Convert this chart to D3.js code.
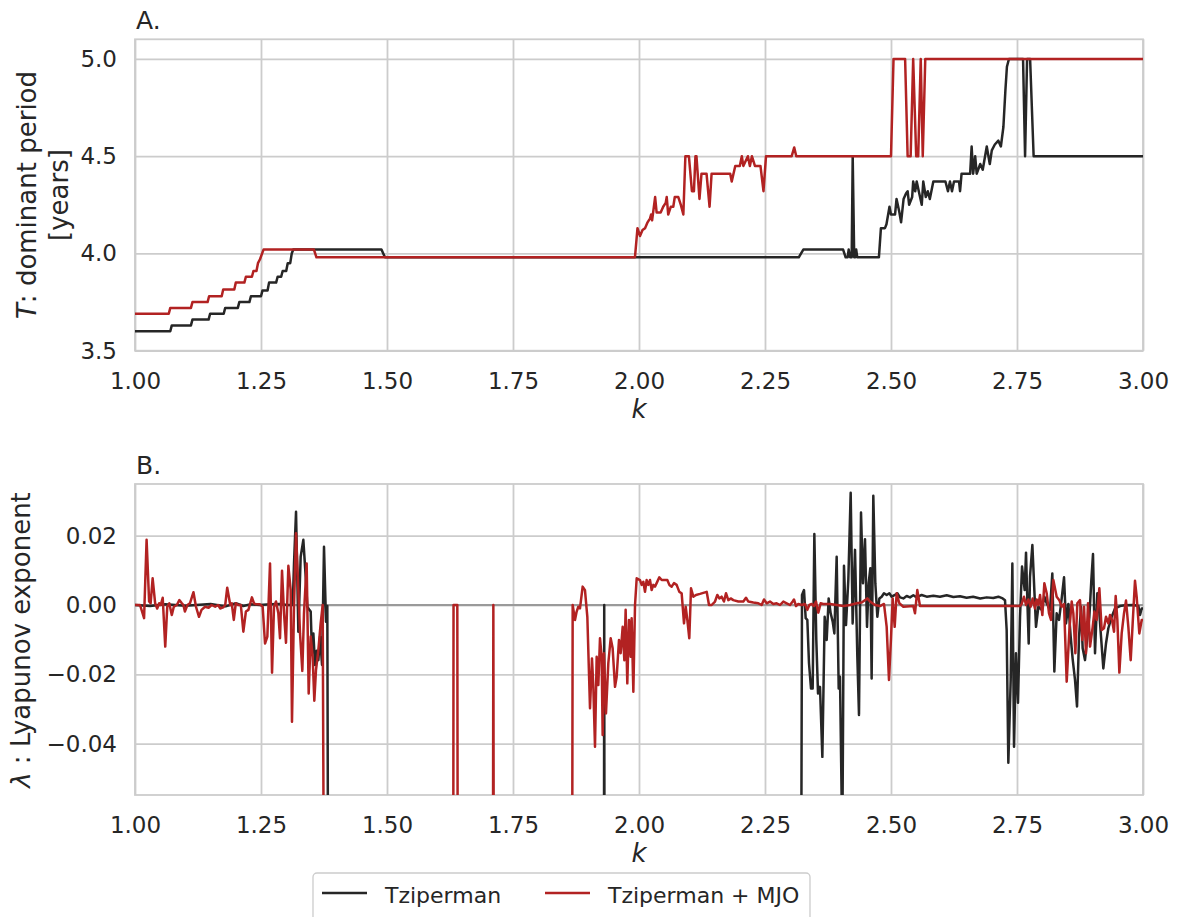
<!DOCTYPE html>
<html>
<head>
<meta charset="utf-8">
<script src="https://cdn.jsdelivr.net/npm/d3@7"></script>
<style>
  body { margin: 0; background: #fff; }
  text { font-family: "DejaVu Sans", sans-serif; fill: #262626; }
</style>
</head>
<body>
<div id="chart"></div>
<script>
// values, [k, value]
const xTicks = [1.00, 1.25, 1.50, 1.75, 2.00, 2.25, 2.50, 2.75, 3.00];
const periodTicks = [3.5, 4.0, 4.5, 5.0];
const lyapTicks = [-0.04, -0.02, 0.00, 0.02];
const seriesNames = ["Tziperman", "Tziperman + MJO"];

// A. dominant period
const periodTz = [[1.000,3.60],[1.070,3.60],[1.073,3.63],[1.111,3.63],[1.114,3.66],[1.146,3.66],[1.149,3.69],[1.176,3.69],[1.179,3.72],[1.204,3.72],[1.207,3.75],[1.227,3.75],[1.230,3.78],[1.250,3.78],[1.253,3.81],[1.263,3.81],[1.266,3.85],[1.280,3.85],[1.283,3.88],[1.290,3.88],[1.293,3.91],[1.300,3.91],[1.303,3.95],[1.308,3.95],[1.311,4.00],[1.314,4.02],[1.489,4.02],[1.496,3.98],[2.317,3.98],[2.326,4.02],[2.405,4.02],[2.410,3.98],[2.414,3.98],[2.416,4.02],[2.419,3.98],[2.422,3.98],[2.424,4.50],[2.427,3.98],[2.429,3.98],[2.431,4.02],[2.433,3.98],[2.476,3.98],[2.480,4.13],[2.488,4.13],[2.491,4.15],[2.497,4.24],[2.500,4.20],[2.508,4.20],[2.511,4.28],[2.516,4.22],[2.520,4.16],[2.525,4.28],[2.530,4.31],[2.533,4.32],[2.536,4.25],[2.542,4.29],[2.544,4.37],[2.548,4.32],[2.551,4.37],[2.556,4.31],[2.561,4.25],[2.564,4.37],[2.569,4.29],[2.573,4.32],[2.577,4.28],[2.584,4.37],[2.608,4.37],[2.613,4.32],[2.617,4.37],[2.621,4.32],[2.625,4.37],[2.635,4.37],[2.637,4.32],[2.640,4.41],[2.657,4.41],[2.660,4.55],[2.663,4.41],[2.667,4.50],[2.670,4.41],[2.677,4.46],[2.682,4.43],[2.690,4.55],[2.696,4.46],[2.700,4.53],[2.706,4.56],[2.713,4.58],[2.718,4.55],[2.723,4.65],[2.727,4.84],[2.730,4.96],[2.734,5.00],[2.762,5.00],[2.766,4.50],[2.770,5.00],[2.776,5.00],[2.783,4.50],[3.000,4.50]];

const periodMjo = [[1.000,3.69],[1.067,3.69],[1.070,3.72],[1.111,3.72],[1.114,3.75],[1.144,3.75],[1.147,3.78],[1.172,3.78],[1.175,3.815],[1.197,3.815],[1.200,3.85],[1.217,3.85],[1.220,3.88],[1.232,3.88],[1.235,3.91],[1.241,3.91],[1.244,3.95],[1.248,3.97],[1.255,4.02],[1.355,4.02],[1.360,3.98],[1.992,3.98],[1.997,4.13],[2.002,4.09],[2.007,4.12],[2.012,4.13],[2.017,4.16],[2.022,4.18],[2.024,4.20],[2.026,4.17],[2.028,4.21],[2.032,4.29],[2.035,4.21],[2.043,4.21],[2.048,4.24],[2.053,4.26],[2.055,4.29],[2.058,4.20],[2.063,4.24],[2.068,4.24],[2.071,4.29],[2.078,4.29],[2.083,4.25],[2.088,4.20],[2.092,4.50],[2.099,4.50],[2.105,4.32],[2.109,4.32],[2.112,4.50],[2.114,4.50],[2.120,4.28],[2.124,4.41],[2.134,4.41],[2.140,4.24],[2.144,4.41],[2.181,4.41],[2.184,4.37],[2.191,4.45],[2.200,4.45],[2.204,4.50],[2.207,4.45],[2.216,4.50],[2.220,4.45],[2.224,4.50],[2.230,4.45],[2.241,4.45],[2.247,4.32],[2.252,4.50],[2.303,4.50],[2.308,4.545],[2.312,4.50],[2.500,4.50],[2.505,5.00],[2.528,5.00],[2.533,4.50],[2.539,4.50],[2.544,5.00],[2.550,4.50],[2.554,4.50],[2.559,5.00],[2.563,4.50],[2.568,5.00],[3.000,5.00]];

// B. lyapunov exponent (-0.15 = far below the axis)
const lyapTz = [[1.000,0.0000],[1.030,-0.0003],[1.060,0.0002],[1.100,-0.0002],[1.150,0.0003],[1.180,-0.0004],[1.200,0.0005],[1.215,-0.0003],[1.230,0.0002],[1.248,0.0000],[1.268,0.0002],[1.288,0.0003],[1.301,0.0000],[1.313,0.0000],[1.3155,0.0120],[1.3195,0.0269],[1.3241,-0.0077],[1.3287,0.0139],[1.3340,0.0188],[1.3387,0.0082],[1.3420,-0.0005],[1.3459,-0.0014],[1.3486,-0.0019],[1.3512,-0.0139],[1.3539,-0.0082],[1.3572,-0.0173],[1.3605,-0.0132],[1.3638,-0.0159],[1.3671,-0.0091],[1.3711,-0.0173],[1.3750,0.0168],[1.3790,-0.0048],[1.3816,-0.0003],[1.3843,-0.15],[1.930,-0.15],[1.931,0.0],[1.932,-0.15],[2.3205,-0.15],
  [2.3234,0.0029],[2.3274,0.0043],[2.3307,-0.0038],[2.3340,-0.0043],[2.3373,-0.0168],[2.3413,-0.0241],[2.3446,-0.0241],[2.3479,0.0205],[2.3518,-0.0101],[2.3552,-0.0255],[2.3591,-0.0236],[2.3638,-0.0438],[2.3684,-0.0034],[2.3724,-0.0101],[2.3763,0.0019],[2.3803,-0.0024],[2.3843,-0.0048],[2.3876,-0.0082],[2.3922,0.0139],[2.3962,-0.0241],[2.3988,-0.0207],[2.4034,-0.07],[2.4067,0.0113],[2.4107,-0.0058],[2.4153,0.0072],[2.4200,0.0324],[2.4239,-0.0053],[2.4286,0.0159],[2.4332,-0.0149],[2.4365,-0.0317],[2.4405,0.0267],[2.4444,0.0063],[2.4484,0.0190],[2.4524,-0.0063],[2.4557,0.0063],[2.4590,0.0106],[2.4616,-0.0212],[2.4649,0.0315],[2.4689,0.0063],[2.4729,-0.0034],[2.4769,0.0019],[2.4815,0.0024],[2.4861,0.0034],[2.4914,0.0029],[2.4967,0.0034],[2.5013,0.0024],[2.5079,0.0029],[2.5126,0.0034],[2.5179,0.0022],[2.5245,0.0019],[2.5311,0.0026],[2.5377,0.0022],[2.5443,0.0028],[2.5509,0.0022],[2.5608,0.0029],[2.5708,0.0024],[2.5840,0.0027],[2.5972,0.0024],[2.6105,0.0028],[2.6237,0.0023],[2.6369,0.0025],[2.650,0.0021],[2.663,0.0024],[2.677,0.0019],[2.690,0.0022],[2.703,0.0020],[2.713,0.0024],[2.7216,0.0019],
  [2.7262,0.0014],[2.7295,-0.0072],[2.7328,-0.0455],[2.7375,-0.0216],[2.7408,0.0120],[2.7441,-0.0409],[2.7480,-0.0139],[2.7520,-0.0282],[2.7560,-0.0034],[2.7600,0.0111],[2.7626,0.0077],[2.7652,0.0043],[2.7679,0.0151],[2.7705,0.0014],[2.7732,-0.0111],[2.7758,0.0082],[2.7805,0.0173],[2.7844,0.0043],[2.7877,-0.0063],[2.7924,-0.0005],[2.7990,-0.0014],[2.8043,0.0024],[2.8089,0.0005],[2.8155,-0.0014],[2.8201,0.0091],[2.8241,-0.0192],[2.8287,-0.0024],[2.8334,-0.0043],[2.8387,0.0019],[2.8433,0.0080],[2.8473,-0.0053],[2.8519,0.0003],[2.8565,-0.0091],[2.8605,-0.0157],[2.8651,-0.0216],[2.8691,-0.0293],[2.8731,-0.0091],[2.8770,-0.0005],[2.8803,-0.0125],[2.8849,-0.0159],[2.8896,-0.0091],[2.8936,-0.0034],[2.8975,0.0072],[2.9008,0.0147],[2.9048,-0.0139],[2.9094,0.0034],[2.9134,-0.0024],[2.9167,-0.0091],[2.9213,-0.0183],[2.9266,-0.0111],[2.9312,-0.0067],[2.9379,-0.0034],[2.9445,-0.0010],[2.9544,-0.0003],[2.9643,-0.0001],[2.9809,0.0000],[2.9908,-0.0003],[2.9941,-0.0029],[2.9974,-0.0010],[3.000,-0.0010]];

const lyapMjo = [[1.000,0.0000],[1.010,0.0000],[1.018,-0.0038],[1.023,0.0188],[1.028,0.0010],[1.031,0.0005],[1.035,0.0077],[1.040,0.0005],[1.044,-0.0010],[1.048,0.0005],[1.051,0.0000],[1.055,0.0021],[1.060,-0.0120],[1.064,-0.0005],[1.068,0.0005],[1.073,-0.0029],[1.077,-0.0005],[1.083,0.0000],[1.088,0.0014],[1.093,0.0005],[1.096,0.0000],[1.099,-0.0019],[1.104,0.0000],[1.109,0.0005],[1.116,0.0037],[1.121,-0.0005],[1.127,-0.0034],[1.132,-0.0014],[1.139,-0.0005],[1.146,-0.0008],[1.152,0.0000],[1.159,-0.0005],[1.165,0.0000],[1.169,-0.0010],[1.175,-0.0007],[1.179,0.0000],[1.183,0.0050],[1.189,0.0000],[1.192,0.0005],[1.196,-0.0043],[1.200,0.0005],[1.205,0.0000],[1.210,0.0000],[1.215,-0.0077],[1.220,-0.0019],[1.225,-0.0014],[1.232,0.0022],[1.236,0.0005],[1.241,0.0002],[1.248,0.0002],
  [1.2533,-0.0005],[1.2580,-0.0111],[1.2626,-0.0091],[1.2679,0.0120],[1.2719,-0.0195],[1.2758,-0.0005],[1.2798,0.0010],[1.2844,-0.0024],[1.2877,-0.0096],[1.2917,0.0099],[1.2957,-0.0024],[1.2996,-0.0109],[1.3043,0.0113],[1.3089,0.0043],[1.3115,-0.0337],[1.3155,0.0000],[1.3195,0.0207],[1.3241,0.0043],[1.3274,-0.0082],[1.3320,-0.0190],[1.3353,-0.0024],[1.3406,0.0120],[1.3446,-0.0255],[1.3486,-0.0091],[1.3525,-0.0149],[1.3558,-0.0276],[1.3591,-0.0188],[1.3638,-0.0130],[1.3684,-0.0053],[1.3724,0.0000],[1.3765,-0.15],[1.631,-0.15],[1.632,0.0],[1.6395,0.0],[1.641,-0.15],[1.7095,-0.15],[1.711,0.0],[1.7125,-0.15],[1.8665,-0.15],
  [1.8684,0.0000],[1.8730,-0.0043],[1.8763,-0.0019],[1.8796,-0.0005],[1.8829,-0.0010],[1.8882,0.0053],[1.8928,0.0043],[1.8975,-0.0034],[1.9028,-0.0298],[1.9067,-0.0154],[1.9094,-0.0236],[1.9127,-0.0409],[1.9160,-0.0149],[1.9193,-0.0231],[1.9226,-0.0096],[1.9259,-0.0149],[1.9279,-0.0375],[1.9305,-0.0139],[1.9345,-0.0313],[1.9391,-0.0168],[1.9438,-0.0096],[1.9477,-0.0125],[1.9524,-0.0236],[1.9557,-0.0207],[1.9603,-0.0101],[1.9636,-0.0139],[1.9676,-0.0063],[1.9709,-0.0159],[1.9735,-0.0014],[1.9768,-0.0226],[1.9801,-0.0043],[1.9835,-0.0149],[1.9854,-0.0038],[1.9888,-0.0250],[1.9921,0.0000],[1.9954,0.0077],[2.0020,0.0072],[2.0053,0.0058],[2.0086,0.0067],[2.0119,0.0038],[2.0152,0.0072],[2.0185,0.0058],[2.0218,0.0072],[2.0251,0.0043],[2.0284,0.0058],[2.0317,0.0053],[2.0350,0.0063],[2.0403,0.0080],[2.0450,0.0072],[2.0516,0.0072],[2.0562,0.0072],[2.0602,0.0058],[2.0648,0.0053],[2.0694,0.0063],[2.0747,0.0058],[2.0800,0.0038],[2.0846,0.0034],[2.0893,-0.0053],[2.0926,-0.0005],[2.0959,-0.0043],[2.0998,-0.0096],[2.1032,0.0048],[2.1078,0.0024],[2.1131,0.0029],[2.1210,0.0032],[2.1343,0.0038],[2.1389,0.0000],[2.1442,0.0000],[2.1508,0.0010],[2.1554,0.0029],[2.1594,0.0019],[2.1640,0.0024],[2.1686,0.0010],[2.1726,0.0034],[2.1772,0.0014],[2.1819,0.0019],[2.1871,0.0014],[2.1971,0.0010],[2.2070,0.0010],[2.2123,0.0021],[2.2169,0.0010],[2.2268,0.0007],[2.2368,0.0005],[2.2434,0.0000],[2.2480,0.0016],[2.2533,0.0005],[2.2599,0.0010],[2.2665,0.0003],[2.2731,0.0005],[2.2798,0.0000],[2.2864,0.0010],[2.2930,0.0005],
  [2.2996,0.0000],[2.3049,0.0010],[2.3075,0.0016],[2.3115,-0.0003],[2.3161,0.0003],[2.3228,0.0000],[2.3294,0.0003],[2.3340,-0.0014],[2.3380,0.0000],[2.3426,0.0003],[2.3472,-0.0003],[2.3512,0.0010],[2.3558,-0.0022],[2.3604,0.0005],[2.3657,0.0003],[2.3790,0.0003],[2.3922,0.0000],[2.4054,-0.0003],[2.4187,0.0000],[2.4319,0.0005],[2.4418,0.0007],[2.4530,0.0019],[2.4583,0.0010],[2.4683,0.0000],[2.4782,-0.0003],[2.4861,0.0003],[2.4914,-0.0063],[2.4960,-0.0216],[2.5000,-0.0096],[2.5033,0.0019],[2.5073,-0.0063],[2.5112,0.0034],[2.5165,0.0005],[2.5245,-0.0005],[2.5443,-0.0003],[2.5476,-0.0024],[2.5522,0.0043],[2.5575,-0.0003],[2.5642,-0.0003],[2.7560,-0.0003],
  [2.7593,0.0003],[2.7639,0.0024],[2.7679,0.0000],[2.7725,0.0016],[2.7771,-0.0005],[2.7811,0.0019],[2.7857,-0.0010],[2.7890,0.0016],[2.7924,0.0000],[2.7957,0.0029],[2.8003,-0.0029],[2.8043,0.0063],[2.8089,0.0034],[2.8135,-0.0024],[2.8175,-0.0043],[2.8221,0.0072],[2.8287,0.0024],[2.8340,0.0014],[2.8387,-0.0005],[2.8433,0.0003],[2.8486,-0.0221],[2.8539,-0.0072],[2.8585,0.0010],[2.8618,-0.0024],[2.8658,-0.0139],[2.8697,0.0005],[2.8750,0.0014],[2.8797,-0.0101],[2.8830,-0.0005],[2.8869,-0.0139],[2.8909,0.0005],[2.8949,-0.0120],[2.9002,-0.0063],[2.9035,-0.0019],[2.9081,-0.0043],[2.9134,0.0048],[2.9180,-0.0072],[2.9226,-0.0067],[2.9266,-0.0034],[2.9312,-0.0053],[2.9345,-0.0029],[2.9385,-0.0043],[2.9425,-0.0077],[2.9458,0.0026],[2.9491,-0.0043],[2.9531,-0.0195],[2.9577,-0.0082],[2.9623,-0.0024],[2.9663,0.0013],[2.9709,-0.0063],[2.9756,-0.0159],[2.9795,-0.0053],[2.9841,0.0070],[2.9874,0.0024],[2.9927,-0.0082],[2.9974,-0.0043],[3.000,-0.0043]];

var colors = ["#262626", "#b22222"];
var gridColor = "#cccccc";
var line_width = 2.5;

var svg = d3.select("#chart")
    .append("svg")
    .attr("width", 1177)
    .attr("height", 917);

var x = d3.scaleLinear().domain([1, 3]).range([135, 1143]);

function draw_panel(id, top, bottom, y, yTicks, yFormat, title, series, zeroLine) {
  var g = svg.append("g").attr("class", "panel-" + id);

  g.append("clipPath").attr("id", "clip-" + id)
    .append("rect")
      .attr("x", x.range()[0]).attr("y", top)
      .attr("width", x.range()[1] - x.range()[0]).attr("height", bottom - top);

  // vertical grid + x tick labels
  var xa = g.append("g")
    .attr("transform", "translate(0," + bottom + ")")
    .call(d3.axisBottom(x).tickValues(xTicks).tickFormat(d3.format(".2f"))
      .tickSize(-(bottom - top)).tickPadding(22));

  // horizontal grid + y tick labels
  var ya = g.append("g")
    .attr("transform", "translate(" + x.range()[0] + ",0)")
    .call(d3.axisLeft(y).tickValues(yTicks).tickFormat(yFormat)
      .tickSize(-(x.range()[1] - x.range()[0])).tickPadding(18));

  [xa, ya].forEach(function(a) {
    a.select(".domain").remove();
    a.selectAll("line").attr("stroke", gridColor).attr("stroke-width", 1.8);
    a.selectAll("text").attr("fill", "#262626").style("font-size", "23px")
      .style("font-family", "'DejaVu Sans', sans-serif");
  });

  // frame
  g.append("rect")
    .attr("x", x.range()[0]).attr("y", top)
    .attr("width", x.range()[1] - x.range()[0]).attr("height", bottom - top)
    .attr("fill", "none").attr("stroke", gridColor).attr("stroke-width", 1.8);

  var plot = g.append("g").attr("clip-path", "url(#clip-" + id + ")");

  if (zeroLine) {
    plot.append("line")
      .attr("x1", x.range()[0]).attr("x2", x.range()[1])
      .attr("y1", y(0)).attr("y2", y(0))
      .attr("stroke", "#9a9a9a").attr("stroke-width", 2);
  }

  var line = d3.line()
    .x(function(d) { return x(d[0]); })
    .y(function(d) { return y(d[1]); });

  series.forEach(function(s, i) {
    plot.append("path")
      .datum(s)
      .attr("d", line)
      .attr("fill", "none")
      .attr("stroke", colors[i])
      .attr("stroke-width", line_width)
      .attr("stroke-linejoin", "round");
  });

  // panel title
  g.append("text")
    .attr("x", 136).attr("y", top - 10)
    .style("font-size", "25px")
    .text(title);

  // x label
  g.append("text")
    .attr("x", (x.range()[0] + x.range()[1]) / 2)
    .attr("y", bottom + 67)
    .attr("text-anchor", "middle")
    .style("font-size", "26px")
    .style("font-style", "italic")
    .text("k");
}

var yA = d3.scaleLinear().domain([3.5, 5.101]).range([350.7, 39.3]);
var yB = d3.scaleLinear().domain([-0.0548, 0.0349]).range([795, 484]);

draw_panel("a", 39.3, 350.7, yA, periodTicks, d3.format(".1f"), "A.", [periodTz, periodMjo], false);
draw_panel("b", 484, 795, yB, lyapTicks, d3.format(".2f"), "B.", [lyapTz, lyapMjo], true);

// y labels
var labA = svg.append("text")
    .attr("transform", "translate(36,195) rotate(-90)")
    .attr("text-anchor", "middle")
    .style("font-size", "26px");
labA.append("tspan").style("font-style", "italic").text("T");
labA.append("tspan").text(": dominant period");

svg.append("text")
    .attr("transform", "translate(68,195) rotate(-90)")
    .attr("text-anchor", "middle")
    .style("font-size", "26px")
    .text("[years]");

var labB = svg.append("text")
    .attr("transform", "translate(30,640) rotate(-90)")
    .attr("text-anchor", "middle")
    .style("font-size", "26px");
labB.append("tspan").style("font-style", "italic").text("λ");
labB.append("tspan").text(" : Lyapunov exponent");

// legend
var legend = svg.append("g").attr("class", "legend");
legend.append("rect")
    .attr("x", 313).attr("y", 873)
    .attr("width", 497).attr("height", 70)
    .attr("rx", 4)
    .attr("fill", "#fff")
    .attr("stroke", gridColor)
    .attr("stroke-width", 1.3);

var legendPos = [322, 545];
legend.selectAll("line.key")
  .data(seriesNames)
  .enter()
  .append("line")
    .attr("class", "key")
    .attr("x1", function(d, i) { return legendPos[i]; })
    .attr("x2", function(d, i) { return legendPos[i] + 45; })
    .attr("y1", 893).attr("y2", 893)
    .attr("stroke", function(d, i) { return colors[i]; })
    .attr("stroke-width", line_width);

legend.selectAll("text")
  .data(seriesNames)
  .enter()
  .append("text")
    .attr("x", function(d, i) { return legendPos[i] + 63; })
    .attr("y", 903)
    .style("font-size", "22px")
    .text(function(d) { return d; });
</script>
</body>
</html>
